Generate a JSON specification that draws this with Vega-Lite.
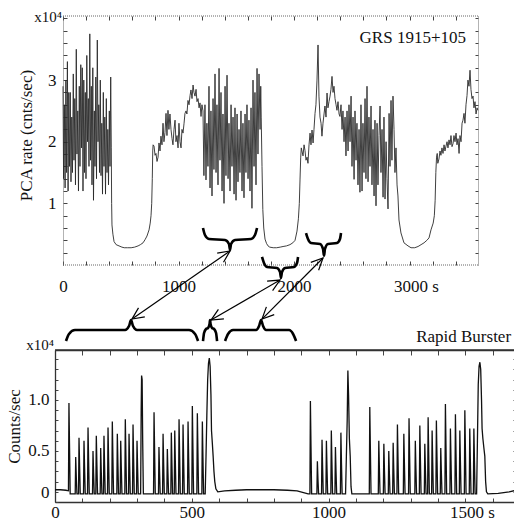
{
"$schema": "https://vega.github.io/schema/vega-lite/v6.json",
"padding": {"left": 5, "top": 9, "right": 0, "bottom": 0},
"spacing": -9,
"config": {
 "view": {"stroke": null},
 "font": "Liberation Serif",
 "axis": {"grid": false, "labelFont": "Liberation Serif", "labelFontSize": 17, "labelColor": "#111", "titleFont": "Liberation Serif", "titleFontSize": 17, "titleFontWeight": "normal", "titleColor": "#111", "tickColor": "#444", "tickWidth": 1, "domainColor": "#333", "labelFlush": false, "labelOverlap": false},
 "text": {"font": "Liberation Serif", "color": "#111"}
},
"datasets": {
 "grs": [
{"t":0,"v":2.9},{"t":5,"v":1.4},{"t":12,"v":2.6},{"t":18,"v":1.25},{"t":25,"v":3.0},{"t":31,"v":1.5},{"t":38,"v":3.3},{"t":44,"v":1.2},{"t":50,"v":2.8},{"t":56,"v":1.6},{"t":63,"v":2.8},{"t":69,"v":1.35},{"t":76,"v":2.4},{"t":82,"v":1.5},{"t":89,"v":3.1},{"t":95,"v":1.7},{"t":102,"v":2.7},{"t":108,"v":1.3},{"t":115,"v":3.5},{"t":121,"v":1.8},{"t":128,"v":2.5},{"t":134,"v":1.2},{"t":141,"v":2.9},{"t":147,"v":1.6},{"t":154,"v":3.25},{"t":160,"v":1.9},{"t":167,"v":3.2},{"t":173,"v":1.2},{"t":180,"v":3.0},{"t":186,"v":1.5},{"t":193,"v":2.8},{"t":199,"v":1.4},{"t":206,"v":3.4},{"t":212,"v":2.0},{"t":219,"v":2.7},{"t":225,"v":1.6},{"t":232,"v":3.75},{"t":238,"v":1.7},{"t":245,"v":2.9},{"t":251,"v":1.3},{"t":258,"v":3.2},{"t":264,"v":1.05},{"t":271,"v":2.5},{"t":277,"v":1.6},{"t":284,"v":3.05},{"t":290,"v":1.4},{"t":297,"v":3.65},{"t":303,"v":2.0},{"t":310,"v":2.6},{"t":316,"v":1.5},{"t":323,"v":3.0},{"t":329,"v":1.45},{"t":336,"v":2.3},{"t":342,"v":1.15},{"t":349,"v":2.8},{"t":355,"v":1.6},{"t":362,"v":2.4},{"t":368,"v":1.15},{"t":375,"v":2.7},{"t":381,"v":1.5},{"t":388,"v":2.2},{"t":394,"v":1.3},{"t":401,"v":2.5},{"t":407,"v":1.6},{"t":413,"v":3.05},{"t":418,"v":1.9},
{"t":421,"v":1.0},{"t":424,"v":0.65},{"t":432,"v":0.5},{"t":442,"v":0.38},{"t":460,"v":0.33},{"t":485,"v":0.31},{"t":510,"v":0.29},{"t":530,"v":0.28},{"t":560,"v":0.28},{"t":590,"v":0.28},{"t":620,"v":0.29},{"t":650,"v":0.31},{"t":670,"v":0.33},{"t":693,"v":0.36},{"t":710,"v":0.41},{"t":727,"v":0.47},{"t":745,"v":0.57},{"t":755,"v":0.68},{"t":762,"v":0.8},{"t":768,"v":1.0},{"t":773,"v":1.4},{"t":777,"v":1.85},{"t":780,"v":1.95},
{"t":788,"v":1.93},{"t":797,"v":1.78},{"t":805,"v":1.81},{"t":814,"v":1.68},{"t":823,"v":1.75},{"t":831,"v":1.98},{"t":840,"v":1.85},{"t":848,"v":2.09},{"t":857,"v":1.95},{"t":866,"v":2.3},{"t":874,"v":2.0},{"t":883,"v":2.15},{"t":892,"v":2.46},{"t":900,"v":2.1},{"t":909,"v":2.51},{"t":917,"v":2.2},{"t":926,"v":2.45},{"t":935,"v":2.2},{"t":944,"v":2.05},{"t":952,"v":1.95},{"t":961,"v":2.2},{"t":970,"v":2.35},{"t":978,"v":2.0},{"t":987,"v":2.1},{"t":996,"v":1.9},{"t":1004,"v":2.3},{"t":1013,"v":2.0},{"t":1022,"v":1.9},{"t":1030,"v":2.2},{"t":1039,"v":2.14},{"t":1048,"v":2.3},{"t":1056,"v":2.46},{"t":1065,"v":2.5},{"t":1073,"v":2.45},{"t":1082,"v":2.67},{"t":1091,"v":2.6},{"t":1100,"v":2.75},{"t":1108,"v":2.84},{"t":1117,"v":2.7},{"t":1126,"v":2.92},{"t":1134,"v":2.8},{"t":1143,"v":2.74},{"t":1152,"v":2.85},{"t":1160,"v":2.65},{"t":1169,"v":2.7},{"t":1178,"v":2.55},{"t":1186,"v":2.63},{"t":1195,"v":2.41},{"t":1203,"v":2.6},
{"t":1212,"v":2.5},{"t":1220,"v":1.45},{"t":1229,"v":2.6},{"t":1238,"v":1.38},{"t":1246,"v":2.3},{"t":1255,"v":1.6},{"t":1264,"v":2.9},{"t":1273,"v":1.25},{"t":1281,"v":2.5},{"t":1290,"v":1.12},{"t":1299,"v":2.7},{"t":1307,"v":1.55},{"t":1316,"v":3.1},{"t":1325,"v":1.5},{"t":1333,"v":2.6},{"t":1342,"v":1.3},{"t":1351,"v":3.19},{"t":1359,"v":1.7},{"t":1368,"v":2.8},{"t":1377,"v":1.2},{"t":1385,"v":2.45},{"t":1394,"v":1.0},{"t":1403,"v":2.9},{"t":1411,"v":1.45},{"t":1420,"v":3.08},{"t":1429,"v":1.4},{"t":1437,"v":2.3},{"t":1446,"v":1.2},{"t":1455,"v":2.6},{"t":1463,"v":1.6},{"t":1472,"v":2.4},{"t":1481,"v":1.15},{"t":1489,"v":2.55},{"t":1498,"v":1.05},{"t":1507,"v":2.45},{"t":1515,"v":1.35},{"t":1524,"v":2.2},{"t":1532,"v":1.5},{"t":1541,"v":2.5},{"t":1550,"v":1.2},{"t":1558,"v":2.3},{"t":1567,"v":1.09},{"t":1576,"v":2.45},{"t":1584,"v":1.5},{"t":1593,"v":2.6},{"t":1602,"v":1.4},{"t":1610,"v":2.35},{"t":1619,"v":1.2},{"t":1628,"v":2.55},{"t":1636,"v":0.92},{"t":1645,"v":3.0},{"t":1654,"v":1.6},{"t":1662,"v":2.8},{"t":1671,"v":1.3},{"t":1680,"v":3.19},{"t":1688,"v":1.8},{"t":1697,"v":3.1},{"t":1706,"v":2.2},{"t":1712,"v":2.9},
{"t":1716,"v":2.4},{"t":1723,"v":1.6},{"t":1730,"v":0.9},{"t":1738,"v":0.6},{"t":1749,"v":0.42},{"t":1762,"v":0.35},{"t":1775,"v":0.31},
{"t":1790,"v":0.29},{"t":1820,"v":0.28},{"t":1850,"v":0.28},{"t":1880,"v":0.29},{"t":1905,"v":0.3},{"t":1935,"v":0.31},{"t":1965,"v":0.33},{"t":1990,"v":0.36},{"t":2009,"v":0.4},{"t":2026,"v":0.55},{"t":2038,"v":0.75},{"t":2046,"v":1.0},{"t":2052,"v":1.38},{"t":2058,"v":1.75},{"t":2063,"v":1.9},
{"t":2078,"v":1.77},{"t":2087,"v":1.95},{"t":2095,"v":1.86},{"t":2104,"v":1.7},{"t":2113,"v":1.75},{"t":2121,"v":1.65},{"t":2130,"v":1.95},{"t":2139,"v":2.14},{"t":2147,"v":1.95},{"t":2156,"v":2.19},{"t":2165,"v":1.98},{"t":2173,"v":2.2},{"t":2182,"v":2.46},{"t":2190,"v":2.6},{"t":2199,"v":3.0},{"t":2208,"v":3.57},{"t":2216,"v":2.74},{"t":2225,"v":2.4},{"t":2234,"v":2.3},{"t":2242,"v":2.09},{"t":2251,"v":2.3},{"t":2260,"v":2.45},{"t":2268,"v":2.58},{"t":2277,"v":2.4},{"t":2286,"v":2.79},{"t":2294,"v":2.55},{"t":2303,"v":2.65},{"t":2312,"v":2.74},{"t":2320,"v":2.85},{"t":2329,"v":3.06},{"t":2338,"v":2.8},{"t":2346,"v":2.9},{"t":2355,"v":2.7},{"t":2364,"v":2.6},{"t":2372,"v":2.51},{"t":2381,"v":2.65},{"t":2390,"v":2.45},{"t":2398,"v":2.41},{"t":2407,"v":2.6},{"t":2416,"v":2.2},{"t":2424,"v":2.5},{"t":2433,"v":2.0},{"t":2442,"v":2.4},{"t":2450,"v":1.77},{"t":2459,"v":2.5},{"t":2468,"v":1.85},{"t":2476,"v":2.6},{"t":2485,"v":2.0},{"t":2494,"v":2.74},{"t":2502,"v":1.6},{"t":2511,"v":2.4},{"t":2520,"v":1.39},{"t":2528,"v":2.5},{"t":2537,"v":1.7},{"t":2545,"v":2.3},{"t":2554,"v":1.3},{"t":2563,"v":2.2},{"t":2571,"v":1.18},{"t":2580,"v":2.6},{"t":2589,"v":1.2},{"t":2597,"v":2.3},{"t":2606,"v":1.5},{"t":2615,"v":2.7},{"t":2623,"v":1.4},{"t":2632,"v":2.9},{"t":2641,"v":1.35},{"t":2649,"v":2.4},{"t":2658,"v":1.6},{"t":2667,"v":2.58},{"t":2675,"v":1.3},{"t":2684,"v":2.2},{"t":2693,"v":1.12},{"t":2701,"v":2.35},{"t":2710,"v":0.96},{"t":2719,"v":2.3},{"t":2727,"v":1.3},{"t":2736,"v":2.1},{"t":2745,"v":2.58},{"t":2753,"v":1.5},{"t":2762,"v":2.2},{"t":2771,"v":1.1},{"t":2779,"v":2.4},{"t":2788,"v":1.07},{"t":2797,"v":2.0},{"t":2805,"v":1.4},{"t":2814,"v":0.91},{"t":2823,"v":2.46},{"t":2831,"v":1.6},{"t":2840,"v":2.67},{"t":2848,"v":1.7},{"t":2857,"v":2.74},{"t":2866,"v":2.2},{"t":2874,"v":1.5},{"t":2883,"v":1.9},{"t":2892,"v":1.3},{"t":2900,"v":1.12},{"t":2909,"v":0.73},{"t":2926,"v":0.52},{"t":2952,"v":0.36},{"t":2987,"v":0.31},
{"t":3013,"v":0.28},{"t":3045,"v":0.28},{"t":3074,"v":0.3},{"t":3100,"v":0.33},{"t":3126,"v":0.36},{"t":3150,"v":0.4},{"t":3169,"v":0.44},{"t":3186,"v":0.57},{"t":3205,"v":0.68},{"t":3215,"v":0.8},{"t":3222,"v":1.05},{"t":3228,"v":1.5},{"t":3234,"v":1.75},{"t":3240,"v":1.81},
{"t":3245,"v":1.65},{"t":3255,"v":1.72},{"t":3264,"v":1.85},{"t":3272,"v":1.78},{"t":3281,"v":1.9},{"t":3290,"v":1.81},{"t":3299,"v":1.95},{"t":3307,"v":1.85},{"t":3316,"v":1.93},{"t":3325,"v":2.0},{"t":3333,"v":1.9},{"t":3342,"v":2.03},{"t":3351,"v":1.95},{"t":3359,"v":2.1},{"t":3368,"v":1.92},{"t":3377,"v":1.97},{"t":3385,"v":2.1},{"t":3394,"v":2.0},{"t":3403,"v":2.14},{"t":3411,"v":1.95},{"t":3420,"v":2.05},{"t":3429,"v":1.81},{"t":3437,"v":2.1},{"t":3446,"v":2.0},{"t":3455,"v":2.3},{"t":3463,"v":2.35},{"t":3472,"v":2.46},{"t":3480,"v":2.3},{"t":3489,"v":2.6},{"t":3498,"v":2.75},{"t":3506,"v":3.0},{"t":3515,"v":2.9},{"t":3524,"v":3.16},{"t":3532,"v":2.85},{"t":3541,"v":2.7},{"t":3550,"v":2.74},{"t":3558,"v":2.55},{"t":3567,"v":2.65},{"t":3576,"v":2.45},{"t":3585,"v":2.55},{"t":3592,"v":2.51}
 ],
 "rb": [
{"t":0,"v":0.12},{"t":20,"v":0.12},{"t":40,"v":0.115},{"t":49.2,"v":0.11},
{"t":51,"v":0.97},{"t":53.2,"v":0.53},{"t":55.5,"v":0.08},
{"t":73.9,"v":0.08},{"t":75.7,"v":0.44},{"t":77.9,"v":0.24},{"t":80.2,"v":0.08},
{"t":86,"v":0.08},{"t":87.8,"v":0.63},{"t":90,"v":0.35},{"t":92.3,"v":0.08},
{"t":104.2,"v":0.08},{"t":106,"v":0.6},{"t":108.2,"v":0.33},{"t":110.5,"v":0.08},
{"t":118.9,"v":0.08},{"t":120.7,"v":0.73},{"t":122.9,"v":0.4},{"t":125.2,"v":0.08},
{"t":137.1,"v":0.08},{"t":138.9,"v":0.5},{"t":141.1,"v":0.28},{"t":143.4,"v":0.08},
{"t":149.2,"v":0.08},{"t":151,"v":0.65},{"t":153.2,"v":0.36},{"t":155.5,"v":0.08},
{"t":165.2,"v":0.08},{"t":167,"v":0.53},{"t":169.2,"v":0.29},{"t":171.5,"v":0.08},
{"t":177.2,"v":0.08},{"t":179,"v":0.65},{"t":181.2,"v":0.36},{"t":183.5,"v":0.08},
{"t":192,"v":0.08},{"t":193.8,"v":0.73},{"t":196,"v":0.4},{"t":198.3,"v":0.08},
{"t":207.7,"v":0.08},{"t":209.5,"v":0.79},{"t":211.7,"v":0.43},{"t":214,"v":0.08},
{"t":226,"v":0.08},{"t":227.8,"v":0.67},{"t":230,"v":0.37},{"t":232.3,"v":0.08},
{"t":238.4,"v":0.08},{"t":240.2,"v":0.6},{"t":242.4,"v":0.33},{"t":244.7,"v":0.08},
{"t":255.2,"v":0.08},{"t":257,"v":0.81},{"t":259.2,"v":0.45},{"t":261.5,"v":0.08},
{"t":268.8,"v":0.08},{"t":270.6,"v":0.67},{"t":272.8,"v":0.37},{"t":275.1,"v":0.08},
{"t":283.4,"v":0.08},{"t":285.2,"v":0.76},{"t":287.4,"v":0.42},{"t":289.7,"v":0.08},
{"t":298,"v":0.08},{"t":299.8,"v":0.6},{"t":302,"v":0.33},{"t":304.3,"v":0.08},
{"t":313,"v":0.08},{"t":315,"v":0.9},{"t":316.5,"v":1.24},{"t":318.5,"v":1.2},{"t":320.5,"v":0.6},{"t":323,"v":0.08},
{"t":335,"v":0.08},{"t":355,"v":0.08},
{"t":360.2,"v":0.08},{"t":362,"v":0.88},{"t":364.2,"v":0.48},{"t":366.5,"v":0.08},
{"t":378.2,"v":0.08},{"t":380,"v":0.54},{"t":382.2,"v":0.3},{"t":384.5,"v":0.08},
{"t":393.2,"v":0.08},{"t":395,"v":0.67},{"t":397.2,"v":0.37},{"t":399.5,"v":0.08},
{"t":408.8,"v":0.08},{"t":410.6,"v":0.52},{"t":412.8,"v":0.29},{"t":415.1,"v":0.08},
{"t":423.4,"v":0.08},{"t":425.2,"v":0.68},{"t":427.4,"v":0.37},{"t":429.7,"v":0.08},
{"t":435.9,"v":0.08},{"t":437.7,"v":0.7},{"t":439.9,"v":0.39},{"t":442.2,"v":0.08},
{"t":451.6,"v":0.08},{"t":453.4,"v":0.81},{"t":455.6,"v":0.45},{"t":457.9,"v":0.08},
{"t":466.2,"v":0.08},{"t":468,"v":0.76},{"t":470.2,"v":0.42},{"t":472.5,"v":0.08},
{"t":484.5,"v":0.08},{"t":486.3,"v":0.79},{"t":488.5,"v":0.43},{"t":490.8,"v":0.08},
{"t":500.2,"v":0.08},{"t":502,"v":0.94},{"t":504.2,"v":0.52},{"t":506.5,"v":0.08},
{"t":518.5,"v":0.08},{"t":520.3,"v":0.87},{"t":522.5,"v":0.48},{"t":524.8,"v":0.08},
{"t":536.8,"v":0.08},{"t":538.6,"v":0.79},{"t":540.8,"v":0.43},{"t":543.1,"v":0.08},
{"t":549,"v":0.08},{"t":552,"v":0.45},{"t":555,"v":0.85},{"t":558,"v":1.2},{"t":561,"v":1.36},{"t":564,"v":1.41},{"t":567,"v":1.33},{"t":570,"v":1.05},{"t":572,"v":0.7},{"t":575,"v":0.58},{"t":578,"v":0.45},{"t":581,"v":0.3},{"t":584,"v":0.2},{"t":588,"v":0.13},{"t":595,"v":0.1},
{"t":620,"v":0.11},{"t":660,"v":0.115},{"t":700,"v":0.12},{"t":750,"v":0.12},{"t":800,"v":0.12},{"t":850,"v":0.115},{"t":885,"v":0.11},{"t":905,"v":0.095},{"t":925,"v":0.08},
{"t":931.7,"v":0.08},{"t":933.5,"v":0.99},{"t":935.7,"v":0.54},{"t":938,"v":0.08},
{"t":957.2,"v":0.08},{"t":959,"v":0.4},{"t":961.2,"v":0.22},{"t":963.5,"v":0.08},
{"t":974.2,"v":0.08},{"t":976,"v":0.61},{"t":978.2,"v":0.34},{"t":980.5,"v":0.08},
{"t":990.2,"v":0.08},{"t":992,"v":0.6},{"t":994.2,"v":0.33},{"t":996.5,"v":0.08},
{"t":1008.2,"v":0.08},{"t":1010,"v":0.7},{"t":1012.2,"v":0.39},{"t":1014.5,"v":0.08},
{"t":1023.2,"v":0.08},{"t":1025,"v":0.54},{"t":1027.2,"v":0.3},{"t":1029.5,"v":0.08},
{"t":1043.2,"v":0.08},{"t":1045,"v":0.68},{"t":1047.2,"v":0.37},{"t":1049.5,"v":0.08},
{"t":1062,"v":0.08},{"t":1065,"v":0.45},{"t":1068,"v":0.8},{"t":1070.5,"v":1.29},{"t":1073,"v":1.05},{"t":1076,"v":0.62},{"t":1079,"v":0.45},{"t":1082,"v":0.15},{"t":1085,"v":0.08},
{"t":1110,"v":0.08},{"t":1140,"v":0.08},
{"t":1148.8,"v":0.08},{"t":1150.6,"v":0.93},{"t":1152.8,"v":0.51},{"t":1155.1,"v":0.08},
{"t":1181.7,"v":0.08},{"t":1183.5,"v":0.6},{"t":1185.7,"v":0.33},{"t":1188,"v":0.08},
{"t":1200.2,"v":0.08},{"t":1202,"v":0.57},{"t":1204.2,"v":0.31},{"t":1206.5,"v":0.08},
{"t":1218.2,"v":0.08},{"t":1220,"v":0.5},{"t":1222.2,"v":0.28},{"t":1224.5,"v":0.08},
{"t":1234.2,"v":0.08},{"t":1236,"v":0.58},{"t":1238.2,"v":0.32},{"t":1240.5,"v":0.08},
{"t":1249.8,"v":0.08},{"t":1251.6,"v":0.76},{"t":1253.8,"v":0.42},{"t":1256.1,"v":0.08},
{"t":1273.2,"v":0.08},{"t":1275,"v":0.67},{"t":1277.2,"v":0.37},{"t":1279.5,"v":0.08},
{"t":1292.2,"v":0.08},{"t":1294,"v":0.82},{"t":1296.2,"v":0.45},{"t":1298.5,"v":0.08},
{"t":1315.2,"v":0.08},{"t":1317,"v":0.6},{"t":1319.2,"v":0.33},{"t":1321.5,"v":0.08},
{"t":1331.7,"v":0.08},{"t":1333.5,"v":0.75},{"t":1335.7,"v":0.41},{"t":1338,"v":0.08},
{"t":1349.9,"v":0.08},{"t":1351.7,"v":0.57},{"t":1353.9,"v":0.31},{"t":1356.2,"v":0.08},
{"t":1362,"v":0.08},{"t":1363.8,"v":0.83},{"t":1366,"v":0.46},{"t":1368.3,"v":0.08},
{"t":1376.6,"v":0.08},{"t":1378.4,"v":0.7},{"t":1380.6,"v":0.39},{"t":1382.9,"v":0.08},
{"t":1392.2,"v":0.08},{"t":1394,"v":0.8},{"t":1396.2,"v":0.44},{"t":1398.5,"v":0.08},
{"t":1408.2,"v":0.08},{"t":1410,"v":0.53},{"t":1412.2,"v":0.29},{"t":1414.5,"v":0.08},
{"t":1425.2,"v":0.08},{"t":1427,"v":0.96},{"t":1429.2,"v":0.53},{"t":1431.5,"v":0.08},
{"t":1443.5,"v":0.08},{"t":1445.3,"v":0.72},{"t":1447.5,"v":0.4},{"t":1449.8,"v":0.08},
{"t":1461.8,"v":0.08},{"t":1463.6,"v":0.86},{"t":1465.8,"v":0.47},{"t":1468.1,"v":0.08},
{"t":1477.9,"v":0.08},{"t":1479.7,"v":0.7},{"t":1481.9,"v":0.39},{"t":1484.2,"v":0.08},
{"t":1496.2,"v":0.08},{"t":1498,"v":0.9},{"t":1500.2,"v":0.5},{"t":1502.5,"v":0.08},
{"t":1514.2,"v":0.08},{"t":1516,"v":0.72},{"t":1518.2,"v":0.4},{"t":1520.5,"v":0.08},
{"t":1529.2,"v":0.08},{"t":1531,"v":0.72},{"t":1533.2,"v":0.4},{"t":1535.5,"v":0.08},
{"t":1541,"v":0.08},{"t":1544,"v":0.6},{"t":1547,"v":1.15},{"t":1550,"v":1.33},{"t":1553,"v":1.37},{"t":1556,"v":1.3},{"t":1559,"v":1.0},{"t":1561,"v":0.72},{"t":1564,"v":0.62},{"t":1568,"v":0.52},{"t":1571,"v":0.45},{"t":1574,"v":0.2},{"t":1577,"v":0.1},{"t":1582,"v":0.08},
{"t":1620,"v":0.085},{"t":1660,"v":0.1},{"t":1685,"v":0.115}
 ],
 "bracesTop": [
{"id":"T1","t":1212,"v":0.6},{"id":"T1","t":1229,"v":0.487},{"id":"T1","t":1264,"v":0.422},{"id":"T1","t":1403,"v":0.406},{"id":"T1","t":1437,"v":0.341},{"id":"T1","t":1446,"v":0.244},{"id":"T1","t":1455,"v":0.341},{"id":"T1","t":1489,"v":0.406},{"id":"T1","t":1628,"v":0.422},{"id":"T1","t":1662,"v":0.487},{"id":"T1","t":1680,"v":0.6},
{"id":"T2","t":1723,"v":0.13},{"id":"T2","t":1740,"v":0.032},{"id":"T2","t":1766,"v":-0.032},{"id":"T2","t":1853,"v":-0.049},{"id":"T2","t":1879,"v":-0.114},{"id":"T2","t":1887,"v":-0.211},{"id":"T2","t":1896,"v":-0.114},{"id":"T2","t":1922,"v":-0.049},{"id":"T2","t":2000,"v":-0.032},{"id":"T2","t":2026,"v":0.032},{"id":"T2","t":2035,"v":0.13},
{"id":"T3","t":2104,"v":0.519},{"id":"T3","t":2121,"v":0.422},{"id":"T3","t":2147,"v":0.357},{"id":"T3","t":2225,"v":0.341},{"id":"T3","t":2251,"v":0.26},{"id":"T3","t":2260,"v":0.146},{"id":"T3","t":2268,"v":0.26},{"id":"T3","t":2294,"v":0.341},{"id":"T3","t":2372,"v":0.357},{"id":"T3","t":2398,"v":0.422},{"id":"T3","t":2407,"v":0.519}
 ],
 "bracesBot": [
{"id":"B1","t":40.2,"v":1.578},{"id":"B1","t":51.2,"v":1.647},{"id":"B1","t":73.1,"v":1.686},{"id":"B1","t":256,"v":1.686},{"id":"B1","t":270.6,"v":1.725},{"id":"B1","t":277.9,"v":1.784},{"id":"B1","t":285.2,"v":1.725},{"id":"B1","t":299.8,"v":1.686},{"id":"B1","t":490,"v":1.686},{"id":"B1","t":511.9,"v":1.647},{"id":"B1","t":522.9,"v":1.578},
{"id":"B2","t":541,"v":1.578},{"id":"B2","t":544.8,"v":1.657},{"id":"B2","t":552,"v":1.696},{"id":"B2","t":559.4,"v":1.706},{"id":"B2","t":564.9,"v":1.745},{"id":"B2","t":566.7,"v":1.784},{"id":"B2","t":568.6,"v":1.745},{"id":"B2","t":574,"v":1.706},{"id":"B2","t":581.4,"v":1.696},{"id":"B2","t":588.7,"v":1.657},{"id":"B2","t":592.3,"v":1.578},
{"id":"B3","t":621.6,"v":1.578},{"id":"B3","t":632.5,"v":1.647},{"id":"B3","t":650.8,"v":1.686},{"id":"B3","t":734.9,"v":1.686},{"id":"B3","t":745.9,"v":1.725},{"id":"B3","t":753.2,"v":1.784},{"id":"B3","t":760.5,"v":1.725},{"id":"B3","t":771.5,"v":1.686},{"id":"B3","t":855.6,"v":1.686},{"id":"B3","t":870.2,"v":1.647},{"id":"B3","t":881.2,"v":1.578}
 ],
 "arrows": [
{"id":"a1","o":0,"t":1445.9,"v":0.227},{"id":"a1","o":1,"t":597.4,"v":-0.877},
{"id":"a1t","o":0,"t":1335,"v":0.192},{"id":"a1t","o":1,"t":1445.9,"v":0.227},{"id":"a1t","o":2,"t":1389.6,"v":0.045},
{"id":"a1b","o":0,"t":708.2,"v":-0.841},{"id":"a1b","o":1,"t":597.4,"v":-0.877},{"id":"a1b","o":2,"t":653.7,"v":-0.695},
{"id":"a2","o":0,"t":1878.8,"v":-0.244},{"id":"a2","o":1,"t":1281.4,"v":-0.893},
{"id":"a2t","o":0,"t":1767.1,"v":-0.261},{"id":"a2t","o":1,"t":1878.8,"v":-0.244},{"id":"a2t","o":2,"t":1814.7,"v":-0.417},
{"id":"a2b","o":0,"t":1393.1,"v":-0.875},{"id":"a2b","o":1,"t":1281.4,"v":-0.893},{"id":"a2b","o":2,"t":1345.5,"v":-0.719},
{"id":"a3","o":0,"t":2251.1,"v":0.114},{"id":"a3","o":1,"t":1723,"v":-0.877},
{"id":"a3t","o":0,"t":2145.5,"v":0.042},{"id":"a3t","o":1,"t":2251.1,"v":0.114},{"id":"a3t","o":2,"t":2213,"v":-0.084},
{"id":"a3b","o":0,"t":1828.6,"v":-0.805},{"id":"a3b","o":1,"t":1723,"v":-0.877},{"id":"a3b","o":2,"t":1761,"v":-0.679}
 ]
},
"vconcat": [
 {
  "width": 423, "height": 249,
  "layer": [
   {
    "data": {"name": "grs"},
    "mark": {"type": "line", "color": "#2a2a2a", "strokeWidth": 0.9},
    "encoding": {
     "x": {"field": "t", "type": "quantitative", "scale": {"domain": [-69.3, 3593], "nice": false, "zero": false},
      "axis": {"orient": "bottom", "title": null, "domain": false, "values": [0,200,400,600,800,1000,1200,1400,1600,1800,2000,2200,2400,2600,2800,3000,3200,3400], "tickSize": -4, "labelPadding": 17,
       "labelExpr": "datum.value == 3000 ? '3000 s' : (datum.value % 1000 == 0 ? '' + datum.value : '')",
       "labelAlign": {"condition": {"test": "datum.value == 3000", "value": "left"}, "value": "center"},
       "labelOffset": {"condition": {"test": "datum.value == 3000", "value": -16}, "value": 0}}},
     "y": {"field": "v", "type": "quantitative", "scale": {"domain": [0, 4.04], "nice": false, "zero": false},
      "axis": {"orient": "left", "offset": -8, "title": "PCA rate (cnts/sec)", "titlePadding": 12, "titleY": 119, "values": [0.2,0.4,0.6,0.8,1,1.2,1.4,1.6,1.8,2,2.2,2.4,2.6,2.8,3,3.2,3.4,3.6,3.8,4], "tickSize": -4, "labelPadding": 11,
       "labelExpr": "indexof([1,2,3], datum.value) >= 0 ? '' + datum.value : ''", "domainDash": [1,1], "domainColor": "#666"}}
    }
   },
   {
    "data": {"values": [{}]},
    "mark": {"type": "rule", "color": "#666", "strokeDash": [1,1], "strokeWidth": 1},
    "encoding": {
     "x": {"datum": 0, "type": "quantitative", "axis": {"orient": "top", "title": null, "domain": false, "labels": false, "values": [0,200,400,600,800,1000,1200,1400,1600,1800,2000,2200,2400,2600,2800,3000,3200,3400], "tickSize": -4}},
     "x2": {"datum": 3593},
     "y": {"datum": 4.04, "type": "quantitative", "axis": {"orient": "right", "title": null, "labels": false, "values": [0.2,0.4,0.6,0.8,1,1.2,1.4,1.6,1.8,2,2.2,2.4,2.6,2.8,3,3.2,3.4,3.6,3.8,4], "tickSize": -3, "domainDash": [1,1], "domainColor": "#666"}}
    }
   },
   {
    "data": {"values": [{}]},
    "mark": {"type": "rule", "color": "#666", "strokeDash": [1,1], "strokeWidth": 1},
    "encoding": {
     "x": {"datum": 0, "type": "quantitative", "axis": null},
     "x2": {"datum": 3593},
     "y": {"datum": 0, "type": "quantitative", "axis": null}
    }
   },
   {
    "data": {"name": "bracesTop"},
    "mark": {"type": "line", "color": "#000", "strokeWidth": 2.6, "interpolate": "monotone", "clip": false},
    "encoding": {
     "x": {"field": "t", "type": "quantitative", "axis": null},
     "y": {"field": "v", "type": "quantitative", "axis": null},
     "detail": {"field": "id"}
    }
   },
   {
    "data": {"name": "arrows"},
    "mark": {"type": "line", "color": "#000", "strokeWidth": 1.2, "clip": false},
    "encoding": {
     "x": {"field": "t", "type": "quantitative", "axis": null},
     "y": {"field": "v", "type": "quantitative", "axis": null},
     "detail": {"field": "id"},
     "order": {"field": "o"}
    }
   },
   {
    "data": {"values": [{}]},
    "mark": {"type": "text", "align": "right", "baseline": "middle", "fontSize": 17},
    "encoding": {
     "x": {"datum": 3489, "type": "quantitative", "axis": null},
     "y": {"datum": 3.685, "type": "quantitative", "axis": null},
     "text": {"value": "GRS 1915+105"}
    }
   },
   {
    "data": {"values": [{}]},
    "mark": {"type": "text", "align": "right", "baseline": "middle", "fontSize": 15, "dx": -1, "dy": 1, "clip": false},
    "encoding": {
     "x": {"datum": 0, "type": "quantitative", "axis": null},
     "y": {"datum": 4.04, "type": "quantitative", "axis": null},
     "text": {"value": "x10⁴"}
    }
   }
  ],
  "resolve": {"axis": {"x": "independent", "y": "independent"}}
 },
 {
  "width": 461, "height": 152,
  "layer": [
   {
    "data": {"name": "rb"},
    "mark": {"type": "line", "color": "#111", "strokeWidth": 1.3},
    "encoding": {
     "x": {"field": "t", "type": "quantitative", "scale": {"domain": [0, 1685], "nice": false, "zero": false},
      "axis": {"orient": "bottom", "title": null, "values": [0,100,200,300,400,500,600,700,800,900,1000,1100,1200,1300,1400,1500,1600], "tickSize": -4, "labelPadding": 6, "domainWidth": 1.3,
       "labelExpr": "datum.value == 1500 ? '1500 s' : (datum.value % 500 == 0 ? '' + datum.value : '')",
       "labelAlign": {"condition": {"test": "datum.value == 1500", "value": "left"}, "value": "center"},
       "labelOffset": {"condition": {"test": "datum.value == 1500", "value": -16}, "value": 0}}},
     "y": {"field": "v", "type": "quantitative", "scale": {"domain": [0, 1.49], "nice": false, "zero": false},
      "axis": {"orient": "left", "title": "Counts/sec", "titlePadding": 4, "values": [0,0.1,0.2,0.3,0.4,0.5,0.6,0.7,0.8,0.9,1,1.1,1.2,1.3,1.4], "tickSize": -3, "labelPadding": 9, "domainWidth": 1.3,
       "labelExpr": "datum.value == 0 ? '0' : (datum.value == 0.5 ? '0.5' : (datum.value == 1 ? '1.0' : ''))",
       "labelOffset": {"condition": {"test": "datum.value == 0", "value": -10}, "value": 0}}}
    }
   },
   {
    "data": {"values": [{}]},
    "mark": {"type": "rule", "color": "#333", "strokeWidth": 1.3},
    "encoding": {
     "x": {"datum": 0, "type": "quantitative", "axis": {"orient": "top", "title": null, "labels": false, "values": [0,100,200,300,400,500,600,700,800,900,1000,1100,1200,1300,1400,1500,1600], "tickSize": -5, "domainWidth": 1.3}},
     "x2": {"datum": 1685},
     "y": {"datum": 1.49, "type": "quantitative", "axis": {"orient": "right", "title": null, "labels": false, "values": [0.1,0.2,0.3,0.4,0.5,0.6,0.7,0.8,0.9,1,1.1,1.2,1.3,1.4], "tickSize": -3, "domainWidth": 1.3}}
    }
   },
   {
    "data": {"name": "bracesBot"},
    "mark": {"type": "line", "color": "#000", "strokeWidth": 2.6, "interpolate": "monotone", "clip": false},
    "encoding": {
     "x": {"field": "t", "type": "quantitative", "axis": null},
     "y": {"field": "v", "type": "quantitative", "axis": null},
     "detail": {"field": "id"}
    }
   },
   {
    "data": {"values": [{}]},
    "mark": {"type": "text", "align": "right", "baseline": "middle", "fontSize": 17, "clip": false},
    "encoding": {
     "x": {"datum": 1667, "type": "quantitative", "axis": null},
     "y": {"datum": 1.618, "type": "quantitative", "axis": null},
     "text": {"value": "Rapid Burster"}
    }
   },
   {
    "data": {"values": [{}]},
    "mark": {"type": "text", "align": "right", "baseline": "middle", "fontSize": 15, "dx": -1, "dy": -5, "clip": false},
    "encoding": {
     "x": {"datum": 0, "type": "quantitative", "axis": null},
     "y": {"datum": 1.49, "type": "quantitative", "axis": null},
     "text": {"value": "x10⁴"}
    }
   }
  ],
  "resolve": {"axis": {"x": "independent", "y": "independent"}}
 }
]
}
